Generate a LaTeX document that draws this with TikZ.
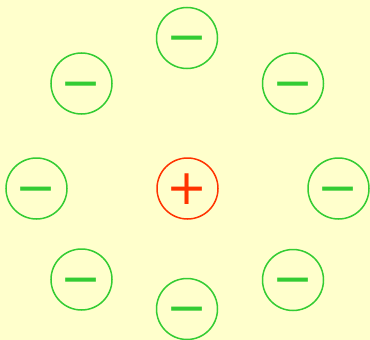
\documentclass[tikz,border=0pt]{standalone}
\usepackage{fontspec}
\newfontfamily\symfont{DejaVu Sans}
\definecolor{bgyellow}{HTML}{FFFFCC}
\definecolor{iongreen}{HTML}{33CC33}
\definecolor{ionred}{HTML}{FF3300}
\begin{document}
\begin{tikzpicture}[x=1pt,y=-1pt,
  ion/.style={circle, line width=1.5pt, minimum size=61pt, inner sep=0pt,
    font=\symfont\fontsize{49}{49}\selectfont, text height=31.4pt, text depth=0pt},
  negion/.style={ion, draw=iongreen, text=iongreen},
  posion/.style={ion, draw=ionred, text=ionred}]
\fill[bgyellow] (0,0) rectangle (370,340);
\useasboundingbox (0,0) rectangle (370,340);
\node[posion] (c) at (187.5,188.5) {+};
\node[negion] (n1) at (187,38) {−};
\node[negion] (n2) at (81.5,83.5) {−};
\node[negion] (n3) at (293,83.5) {−};
\node[negion] (n4) at (36.5,188.5) {−};
\node[negion] (n5) at (338.5,188.5) {−};
\node[negion] (n6) at (81.5,279.5) {−};
\node[negion] (n7) at (293,280) {−};
\node[negion] (n8) at (187,309) {−};
\end{tikzpicture}
\end{document}
